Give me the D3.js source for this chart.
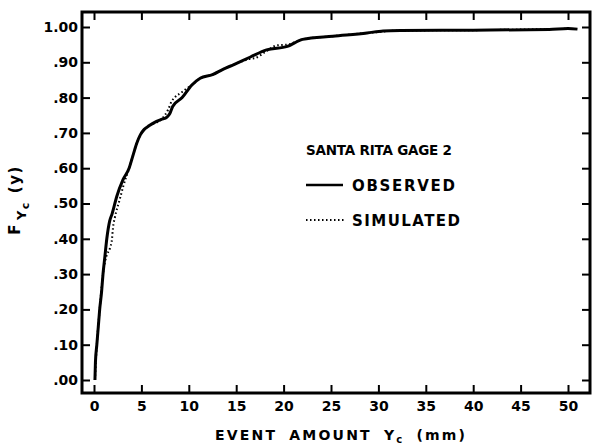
<!DOCTYPE html>
<html>
<head>
<meta charset="utf-8">
<script src="https://cdn.jsdelivr.net/npm/d3@7"></script>
<style>
  body { margin: 0; background: #fff; }
  text { font-family: "DejaVu Sans", sans-serif; font-weight: bold; fill: #000; }
</style>
</head>
<body>
<div id="chart"></div>
<script>
// data: event amount (mm) vs cumulative probability
const observed = [
  [0.1, 0.0], [0.15, 0.05], [0.3, 0.10], [0.45, 0.15], [0.6, 0.20], [0.8, 0.25],
  [0.95, 0.30], [1.15, 0.35], [1.35, 0.40], [1.65, 0.45], [1.9, 0.47], [2.4, 0.52],
  [3.05, 0.567], [3.7, 0.60], [4.1, 0.635], [4.5, 0.67], [4.9, 0.695], [5.3, 0.71],
  [5.8, 0.72], [6.4, 0.73], [7.1, 0.738], [7.7, 0.745], [8.0, 0.755], [8.3, 0.775],
  [9.3, 0.80], [10.3, 0.835], [11.2, 0.855], [12.5, 0.865], [13.6, 0.88], [14.7, 0.893],
  [16.5, 0.915], [18.2, 0.935], [20.4, 0.945], [22.0, 0.965], [25.2, 0.974],
  [28.8, 0.983], [30.5, 0.989], [32.3, 0.99], [40, 0.991], [48, 0.993], [50, 0.996], [51, 0.994]
];
const simulated = [
  [0.1, 0.0], [0.3, 0.10], [0.6, 0.20], [0.95, 0.30], [1.3, 0.35], [1.7, 0.375],
  [1.9, 0.40], [2.0, 0.43], [2.2, 0.46], [2.7, 0.51], [3.1, 0.55], [3.7, 0.60],
  [4.1, 0.635], [4.5, 0.67], [4.9, 0.695], [5.8, 0.72], [7.1, 0.738], [7.8, 0.765], [8.2, 0.79],
  [8.5, 0.80], [9.3, 0.816], [9.8, 0.826], [10.3, 0.835], [11.2, 0.855], [12.5, 0.865],
  [13.6, 0.88], [14.7, 0.893], [16.5, 0.91], [17.0, 0.912], [18.2, 0.932], [19.3, 0.948],
  [20.4, 0.95], [22.0, 0.965], [25.2, 0.974], [28.8, 0.983], [32.3, 0.99], [40, 0.991], [50, 0.995]
];
const xTicks = [0, 5, 10, 15, 20, 25, 30, 35, 40, 45, 50];
const yTicks = [0, 0.1, 0.2, 0.3, 0.4, 0.5, 0.6, 0.7, 0.8, 0.9, 1.0];
const legendTitle = "SANTA RITA GAGE 2";
const seriesNames = ["OBSERVED", "SIMULATED"];

const width = 592, height = 444;
const frame = { left: 82, right: 590, top: 12, bottom: 393 };

const x = d3.scaleLinear().domain([0, 50]).range([94, 568]);
const y = d3.scaleLinear().domain([0, 1]).range([380, 27]);

const svg = d3.select("#chart").append("svg")
  .attr("width", width).attr("height", height);

const yFmt = d => d === 1 ? "1.00" : d3.format(".2f")(d).replace(/^0/, "");

// axes, ticks pointing inward
const styleAxis = g => {
  g.select(".domain").remove();
  g.selectAll(".tick line").attr("stroke", "#000").attr("stroke-width", 2);
};
svg.append("g").attr("transform", `translate(0,${frame.bottom})`)
  .call(d3.axisBottom(x).tickValues(xTicks).tickSize(-8).tickSizeOuter(0).tickPadding(8))
  .call(styleAxis)
  .selectAll("text").attr("font-size", 14).attr("dy", "0.72em");
svg.append("g").attr("transform", `translate(0,${frame.top})`)
  .call(d3.axisTop(x).tickValues(xTicks).tickSize(-8).tickSizeOuter(0).tickFormat(""))
  .call(styleAxis);
svg.append("g").attr("transform", `translate(${frame.left},0)`)
  .call(d3.axisLeft(y).tickValues(yTicks).tickSize(-8).tickSizeOuter(0).tickPadding(4).tickFormat(yFmt))
  .call(styleAxis)
  .selectAll("text").attr("font-size", 14);
svg.append("g").attr("transform", `translate(${frame.right},0)`)
  .call(d3.axisRight(y).tickValues(yTicks).tickSize(-8).tickSizeOuter(0).tickFormat(""))
  .call(styleAxis);

svg.append("rect")
  .attr("x", frame.left).attr("y", frame.top)
  .attr("width", frame.right - frame.left).attr("height", frame.bottom - frame.top)
  .attr("fill", "none").attr("stroke", "#000").attr("stroke-width", 3);

// curves
const line = d3.line().x(d => x(d[0])).y(d => y(d[1])).curve(d3.curveMonotoneX);
svg.append("path").datum(simulated)
  .attr("fill", "none").attr("stroke", "#000").attr("stroke-width", 2)
  .attr("stroke-dasharray", "1.5,2.5").attr("d", line);
svg.append("path").datum(observed)
  .attr("fill", "none").attr("stroke", "#000").attr("stroke-width", 3)
  .attr("stroke-linejoin", "round").attr("d", line);

// legend
const lg = svg.append("g");
lg.append("text").attr("x", 306).attr("y", 155).attr("font-size", 13.5)
  .attr("textLength", 146).attr("lengthAdjust", "spacing").text(legendTitle);
lg.append("line").attr("x1", 306).attr("x2", 343).attr("y1", 185).attr("y2", 185)
  .attr("stroke", "#000").attr("stroke-width", 2.5);
lg.append("line").attr("x1", 306).attr("x2", 345).attr("y1", 220).attr("y2", 220)
  .attr("stroke", "#000").attr("stroke-width", 2).attr("stroke-dasharray", "1.5,2.5");
lg.append("text").attr("x", 352).attr("y", 191).attr("font-size", 15)
  .attr("textLength", 103).attr("lengthAdjust", "spacing").text(seriesNames[0]);
lg.append("text").attr("x", 352).attr("y", 226).attr("font-size", 15)
  .attr("textLength", 108).attr("lengthAdjust", "spacing").text(seriesNames[1]);

// x axis title
const xt = svg.append("text").attr("x", 215).attr("y", 440).attr("font-size", 14)
  .attr("letter-spacing", 2.2).attr("word-spacing", 5);
xt.append("tspan").text("EVENT AMOUNT Y");
xt.append("tspan").attr("dy", 3).attr("font-size", 10).text("c");
xt.append("tspan").attr("dy", -3).text(" (mm)");

// y axis title
const yt = svg.append("text").attr("transform", "translate(20,200) rotate(-90)")
  .attr("text-anchor", "middle").attr("font-size", 15).attr("letter-spacing", 1.5);
yt.append("tspan").text("F");
yt.append("tspan").attr("dy", 6).attr("dx", 3).attr("font-size", 13).text("Y");
yt.append("tspan").attr("dy", 3).attr("font-size", 11).text("c");
yt.append("tspan").attr("dy", -9).attr("dx", 8).text("(y)");
</script>
</body>
</html>
